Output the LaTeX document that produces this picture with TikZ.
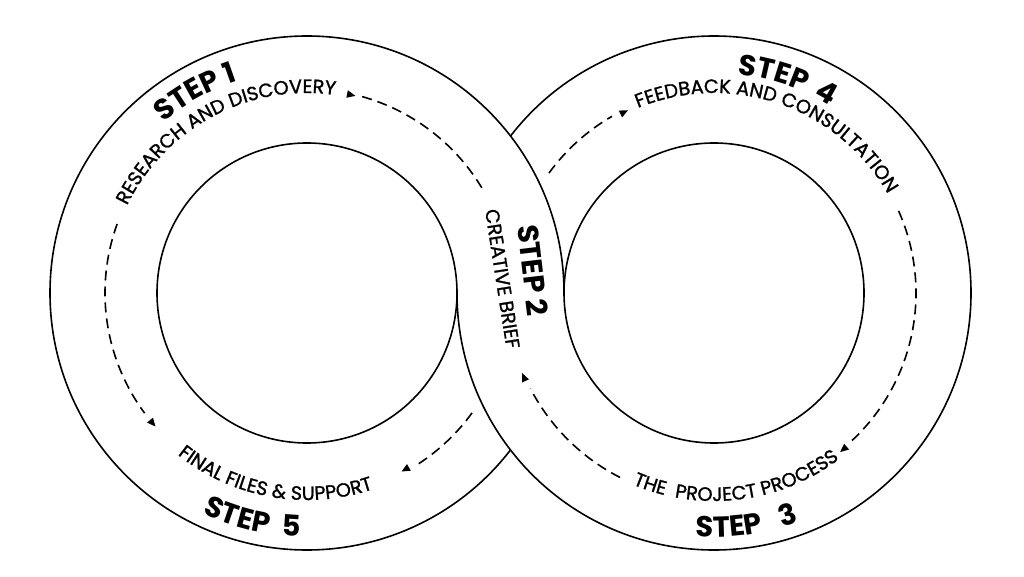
\documentclass[tikz,border=0pt]{standalone}
\usepackage{fontspec}
\setmainfont{Poppins}
\newfontfamily\subfam[FakeBold=1.2]{Poppins}
\usetikzlibrary{decorations.text}
\newcommand{\subfont}{\subfam\fontsize{19.3}{20}\selectfont}
\newcommand{\stepfont}{\bfseries\fontsize{29}{30}\selectfont}
% text along an arc: centre, radius, start angle, end angle, format, text
\newcommand{\arctext}[6]{%
  \path[decorate, decoration={text along path, text align=center, text={|#5|#6}}]
    ([shift={(#1)}]#3:#2) arc[start angle=#3, end angle=#4, radius=#2];}
% small arrow head on a ring: centre, radius, tip angle, base angle
\newcommand{\mytip}[4]{%
  \fill[black] ([shift={(#1)}]{#3}:{#2}) -- ([shift={(#1)}]{#4}:{#2+3.8})
    -- ([shift={(#1)}]{#4}:{#2-3.8}) -- cycle;}
% dashed arc: centre, radius, start angle, end angle
\newcommand{\flowarc}[4]{%
  \draw[flow] ([shift={(#1)}]#3:#2) arc[start angle=#3, end angle=#4, radius=#2];}
\begin{document}
\begin{tikzpicture}[x=1pt,y=1pt,
  ring/.style={line width=1.6pt, black},
  flow/.style={line width=1.6pt, black, dash pattern=on 10pt off 6pt},
  lensstep/.style={inner sep=0pt, font=\stepfont},
  lenssub/.style={inner sep=0pt, font=\subfont}]
\useasboundingbox (0,0) rectangle (1024,576);
\coordinate (L) at (307,283);
\coordinate (R) at (714,283);
% inner circles
\draw[ring] (L) circle[radius=150];
\draw[ring] (R) circle[radius=150];
% outer circles, interlaced
\draw[ring] ([shift={(L)}]0:257) arc[start angle=0, end angle=322.35, radius=257];
\draw[ring] ([shift={(R)}]180:257) arc[start angle=180, end angle=502.35, radius=257];
% dashed flow arcs, left ring
\flowarc{L}{204}{74.3}{30}
\mytip{L}{203}{76.2}{78.6}
\flowarc{L}{202}{160}{216.5}
\mytip{L}{202}{221.4}{219}
\flowarc{L}{204}{-36}{-58}
\mytip{L}{202}{-62.1}{-59.7}
% dashed flow arcs, right ring
\flowarc{R}{204}{144}{120}
\mytip{R}{202}{115.2}{117.6}
\flowarc{R}{202}{24}{-47}
\mytip{R}{203}{-51.6}{-49.2}
\flowarc{R}{207}{243}{207.5}
\mytip{R}{208}{202.6}{205}
% texts, left ring
\arctext{L}{223}{179}{59}{\stepfont}{STEP 1}
\arctext{L}{200}{178}{58}{\subfont}{RESEARCH AND DISCOVERY}
\arctext{L}{207}{200}{320}{\subfont}{FINAL FILES {\&} SUPPORT}
\arctext{L}{244}{196.5}{316.5}{\stepfont}{STEP{\kern7pt} 5}
% texts, right ring
\arctext{R}{220}{131}{11}{\stepfont}{STEP{\kern4pt} 4}
\arctext{R}{200}{141}{1}{\subfont}{FEEDBACK AND CONSULTATION}
\arctext{R}{208}{217}{337}{\subfont}{THE{\kern5pt} PROJECT PROCESS}
\arctext{R}{244}{218}{338}{\stepfont}{STEP{\kern13pt} 3}
% texts in the crossing
\node[lensstep, rotate=-83.2, anchor=base west] (s2) at (517,350) {STEP 2};
\node[lenssub, rotate=-81.2, anchor=base west] (s2sub) at (485,366) {CREATIVE BRIEF};
\end{tikzpicture}
\end{document}
